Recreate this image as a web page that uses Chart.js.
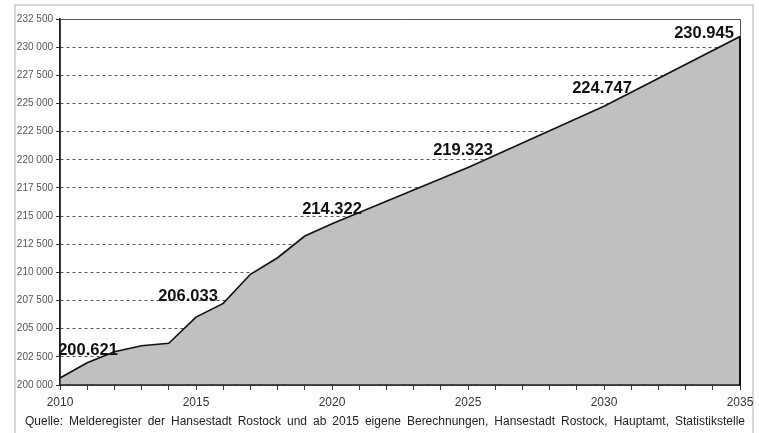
<!DOCTYPE html>
<html>
<head>
<meta charset="utf-8">
<script src="https://cdn.jsdelivr.net/npm/chart.js@4/dist/chart.umd.min.js"></script>
<style>
  html, body { margin: 0; padding: 0; background: #ffffff; }
  #c { display: block; }
</style>
</head>
<body>
<canvas id="c" width="759" height="433"></canvas>
<script>
// ---- Data ----
const years = [2010, 2011, 2012, 2013, 2014, 2015, 2016, 2017, 2018, 2019, 2020, 2025, 2030, 2035];
const population = [200621, 201980, 202960, 203490, 203700, 206033, 207250, 209830, 211300, 213230, 214322, 219323, 224747, 230945];
const labeledYears = [2010, 2015, 2020, 2025, 2030, 2035];
const xTickLabelYears = [2010, 2015, 2020, 2025, 2030, 2035];
const sourceText = 'Quelle: Melderegister der Hansestadt Rostock und ab 2015 eigene Berechnungen, Hansestadt Rostock, Hauptamt, Statistikstelle';

const FONT = '"Liberation Sans", Arial, Helvetica, sans-serif';

// label offsets relative to the data point (text centre)
const labelOffsets = {
  2010: [28, -29], 2015: [-8, -22], 2020: [0, -15],
  2025: [-5, -18], 2030: [-2, -19], 2035: [-36, -4]
};

function fmtSpace(v) {
  return String(v).replace(/\B(?=(\d{3})+(?!\d))/g, ' ');
}
function fmtDot(v) {
  return String(v).replace(/\B(?=(\d{3})+(?!\d))/g, '.');
}

const decorPlugin = {
  id: 'decor',
  beforeDraw(chart) {
    const ctx = chart.ctx;
    ctx.save();
    ctx.fillStyle = '#ffffff';
    ctx.fillRect(0, 0, chart.width, chart.height);
    ctx.strokeStyle = '#d6d6d6';
    ctx.lineWidth = 2;
    ctx.strokeRect(15, 5, 738, 460);
    ctx.restore();
  },
  afterDraw(chart) {
    const ctx = chart.ctx;
    const a = chart.chartArea;
    const meta = chart.getDatasetMeta(0);
    ctx.save();
    ctx.setLineDash([]);
    // plot frame top/right
    ctx.strokeStyle = '#555';
    ctx.lineWidth = 1;
    ctx.beginPath();
    ctx.moveTo(a.left, a.top + 0.5);
    ctx.lineTo(a.right + 0.5, a.top + 0.5);
    ctx.lineTo(a.right + 0.5, a.bottom);
    ctx.stroke();
    // solid axis lines (left and bottom)
    ctx.strokeStyle = '#222';
    ctx.lineWidth = 1.5;
    ctx.beginPath();
    ctx.moveTo(a.left, a.top);
    ctx.lineTo(a.left, a.bottom);
    ctx.lineTo(a.right + 1, a.bottom);
    ctx.stroke();
    // area right edge
    const last = meta.data[meta.data.length - 1];
    ctx.strokeStyle = '#111';
    ctx.lineWidth = 2;
    ctx.beginPath();
    ctx.moveTo(last.x, last.y);
    ctx.lineTo(last.x, a.bottom);
    ctx.stroke();
    // data labels
    ctx.font = 'bold 16.5px ' + FONT;
    ctx.fillStyle = '#111';
    ctx.textAlign = 'center';
    ctx.textBaseline = 'middle';
    labeledYears.forEach(y => {
      const i = years.indexOf(y);
      const p = meta.data[i];
      const off = labelOffsets[y] || [0, -15];
      ctx.fillText(fmtDot(population[i]), p.x + off[0], p.y + off[1] + 1);
    });
    // source line (justified between x=25 and x=745)
    ctx.font = '12px ' + FONT;
    ctx.fillStyle = '#222';
    ctx.textAlign = 'left';
    const words = sourceText.split(' ');
    const widths = words.map(w => ctx.measureText(w).width);
    const total = widths.reduce((s, w) => s + w, 0);
    const startX = 25, endX = 745;
    const gap = (endX - startX - total) / (words.length - 1);
    let x = startX;
    words.forEach((w, k) => {
      ctx.fillText(w, x, 422);
      x += widths[k] + gap;
    });
    ctx.restore();
  }
};

new Chart(document.getElementById('c'), {
  type: 'line',
  data: {
    datasets: [{
      data: years.map((y, i) => ({ x: y, y: population[i] })),
      borderColor: '#111',
      borderWidth: 1.6,
      backgroundColor: '#c0c0c0',
      fill: 'start',
      pointRadius: 0,
      tension: 0
    }]
  },
  options: {
    responsive: false,
    animation: false,
    devicePixelRatio: 1,
    layout: { padding: { left: 0, top: 19, right: 19, bottom: 23 } },
    plugins: {
      legend: { display: false },
      tooltip: { enabled: false },
      title: { display: false }
    },
    scales: {
      x: {
        type: 'linear',
        min: 2010,
        max: 2035,
        afterFit(scale) { scale.height = 25; },
        ticks: {
          stepSize: 1,
          autoSkip: false,
          maxRotation: 0,
          padding: 5,
          color: '#333',
          font: { family: FONT, size: 12 },
          callback: v => xTickLabelYears.includes(v) ? String(v) : ''
        },
        grid: {
          drawOnChartArea: false,
          drawTicks: true,
          tickLength: 5,
          tickColor: '#333'
        },
        border: { display: true, color: '#222', width: 1.5 }
      },
      y: {
        min: 200000,
        max: 232500,
        afterFit(scale) { scale.width = 60; },
        ticks: {
          stepSize: 2500,
          padding: 3,
          color: '#555',
          font: { family: FONT, size: 10 },
          callback: v => fmtSpace(v)
        },
        grid: {
          color: '#555',
          lineWidth: 1,
          drawTicks: true,
          tickLength: 4,
          tickColor: '#333',
          borderDash: [3, 3]
        },
        border: { display: true, color: '#222', width: 1.5, dash: [3, 3] }
      }
    }
  },
  plugins: [decorPlugin]
});
</script>
</body>
</html>
